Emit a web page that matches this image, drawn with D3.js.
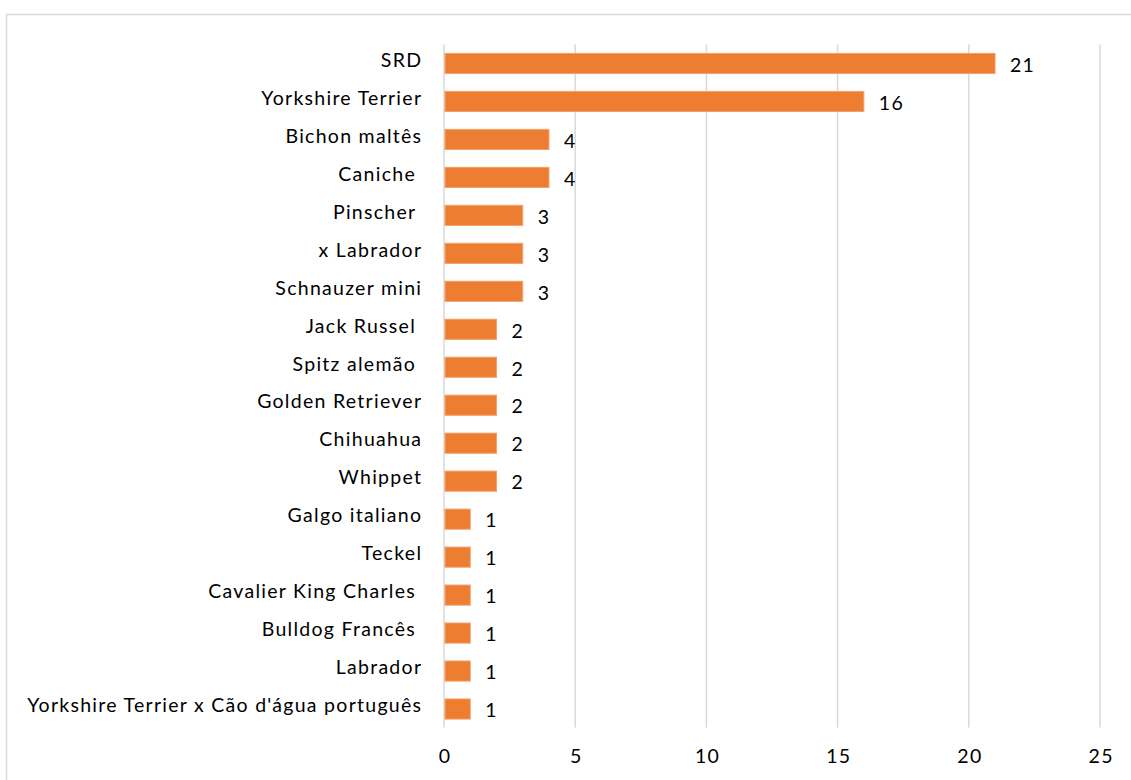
<!DOCTYPE html>
<html>
<head>
<meta charset="utf-8">
<script src="https://cdn.jsdelivr.net/npm/d3@7/dist/d3.min.js"></script>
<style>
  html, body { margin: 0; padding: 0; background: #fff; }
  svg text { font-family: Lato, "Open Sans", sans-serif; fill: #000; white-space: pre; }
</style>
</head>
<body>
<svg id="chart" width="1131" height="780"></svg>
<script>
// Breeds (top to bottom) and number of dogs per breed
const breeds = [
  "SRD",
  "Yorkshire Terrier",
  "Bichon maltês",
  "Caniche ",
  "Pinscher ",
  "x Labrador",
  "Schnauzer mini",
  "Jack Russel ",
  "Spitz alemão ",
  "Golden Retriever",
  "Chihuahua",
  "Whippet",
  "Galgo italiano",
  "Teckel",
  "Cavalier King Charles ",
  "Bulldog Francês ",
  "Labrador",
  "Yorkshire Terrier x Cão d'água português"
];
const counts = [21, 16, 4, 4, 3, 3, 3, 2, 2, 2, 2, 2, 1, 1, 1, 1, 1, 1];
const xTicks = [0, 5, 10, 15, 20, 25];

const svg = d3.select("#chart");

// chart frame (right and bottom edges fall outside the canvas)
svg.append("path")
  .attr("d", "M6.5,1000 V14.5 H1200")
  .attr("fill", "none")
  .attr("stroke", "#d9d9d9")
  .attr("stroke-width", 1.5);

const x = d3.scaleLinear().domain([0, 25]).range([444, 1100]);
const y = d3.scaleBand().domain(breeds).range([44.5, 728]).paddingInner(0.47).paddingOuter(0.235);

const fontSize = 19.5;

// work out letter spacing so the longest label spans ~395px, like the source typeface
const probe = svg.append("text").attr("font-size", fontSize).text(breeds[breeds.length - 1]);
const probeW = probe.node().getComputedTextLength();
probe.remove();
const spacing = Math.max(0, (395 - probeW) / breeds[breeds.length - 1].length);

// vertical gridlines
svg.append("g")
  .selectAll("line")
  .data(xTicks)
  .join("line")
  .attr("x1", d => x(d)).attr("x2", d => x(d))
  .attr("y1", 44.5).attr("y2", 727.5)
  .attr("stroke", "#d9d9d9")
  .attr("stroke-width", 1.5);

// x axis labels
const xAxis = d3.axisBottom(x).tickValues(xTicks).tickSize(0).tickPadding(0);
const gx = svg.append("g").attr("transform", `translate(${spacing / 2},749)`).call(xAxis);
gx.select(".domain").remove();
gx.selectAll("text")
  .attr("font-size", fontSize)
  .attr("font-family", "Lato, 'Open Sans', sans-serif")
  .attr("fill", "#000")
  .attr("letter-spacing", spacing)
  .attr("dy", "0.71em");

// bars
svg.append("g")
  .selectAll("rect")
  .data(breeds)
  .join("rect")
  .attr("x", x(0) + 1)
  .attr("y", d => y(d))
  .attr("width", (d, i) => x(counts[i]) - x(0) - 1)
  .attr("height", y.bandwidth())
  .attr("fill", "#ED7D31")
  .attr("stroke", "#F4A06B")
  .attr("stroke-width", 1);

// category labels (shifted right by the trailing letter spacing)
const yAxis = d3.axisLeft(y).tickSize(0).tickPadding(0);
const gy = svg.append("g").attr("transform", `translate(${421 + spacing},-3)`).call(yAxis);
gy.select(".domain").remove();
gy.selectAll("text")
  .attr("font-size", fontSize)
  .attr("font-family", "Lato, 'Open Sans', sans-serif")
  .attr("fill", "#000")
  .attr("letter-spacing", spacing)
  .style("white-space", "pre");

// value labels
svg.append("g")
  .selectAll("text")
  .data(breeds)
  .join("text")
  .attr("x", (d, i) => x(counts[i]) + 15)
  .attr("y", d => y(d) + y.bandwidth() / 2 + 2)
  .attr("dy", "0.32em")
  .attr("font-size", fontSize)
  .attr("letter-spacing", spacing)
  .text((d, i) => counts[i]);
</script>
</body>
</html>
